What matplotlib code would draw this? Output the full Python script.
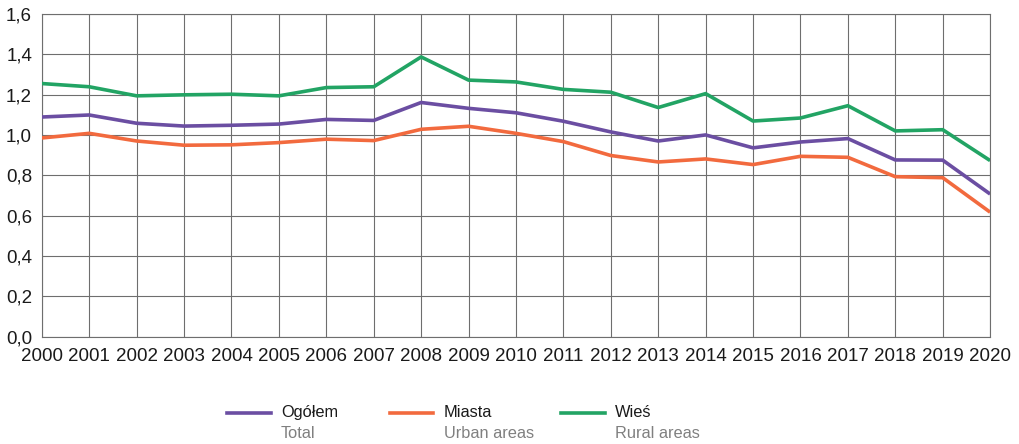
import matplotlib
matplotlib.use('Agg')
import matplotlib.pyplot as plt
from matplotlib.lines import Line2D

plt.rcParams['font.family'] = ['Liberation Sans', 'DejaVu Sans']

years = list(range(2000, 2021))
total = [1.089, 1.099, 1.058, 1.044, 1.048, 1.054, 1.077, 1.072, 1.161, 1.132,
         1.110, 1.068, 1.015, 0.970, 1.000, 0.936, 0.965, 0.982, 0.876, 0.875, 0.707]
urban = [0.985, 1.008, 0.970, 0.949, 0.951, 0.962, 0.979, 0.972, 1.028, 1.043,
         1.008, 0.967, 0.898, 0.866, 0.881, 0.853, 0.894, 0.889, 0.793, 0.788, 0.617]
rural = [1.255, 1.239, 1.194, 1.199, 1.202, 1.194, 1.235, 1.239, 1.387, 1.272,
         1.263, 1.226, 1.212, 1.136, 1.205, 1.069, 1.084, 1.145, 1.020, 1.026, 0.873]
y_ticks = [0.0, 0.2, 0.4, 0.6, 0.8, 1.0, 1.2, 1.4, 1.6]

series = [
    ('Ogółem', 'Total', total, '#6b4ea2'),
    ('Miasta', 'Urban areas', urban, '#f26a3e'),
    ('Wieś', 'Rural areas', rural, '#22a464'),
]

fig = plt.figure(figsize=(10.2, 4.44), dpi=100)
ax = fig.add_axes([0.041, 0.242, 0.9297, 0.7265])

for name, sub, vals, col in series:
    ax.plot(years, vals, color=col, lw=2.6, solid_capstyle='butt', zorder=3)

ax.set_xlim(2000, 2020)
ax.set_ylim(0, 1.6)
ax.set_xticks(years)
ax.set_xticklabels([str(y) for y in years])
ax.set_yticks(y_ticks)
ax.set_yticklabels([f'{v:.1f}'.replace('.', ',') for v in y_ticks])
ax.tick_params(length=0, labelsize=13.5, colors='#1a1a1a', pad=7)
ax.tick_params(axis='x', pad=8)
ax.grid(True, color='#6e6e6e', lw=0.8)
for s in ax.spines.values():
    s.set_color('#6e6e6e')
    s.set_linewidth(0.8)

# legend drawn by hand: two-line labels with grey English text
lx = [0.2225, 0.382, 0.550]
for (name, sub, vals, col), x0 in zip(series, lx):
    fig.add_artist(Line2D([x0, x0 + 0.043], [0.070, 0.070], color=col, lw=2.6,
                          transform=fig.transFigure))
    fig.text(x0 + 0.053, 0.070, name, fontsize=11.8, color='#1a1a1a', va='center')
    fig.text(x0 + 0.053, 0.024, sub, fontsize=11.8, color='#808080', va='center')

plt.savefig('out.png', dpi=100)
plt.close(fig)
